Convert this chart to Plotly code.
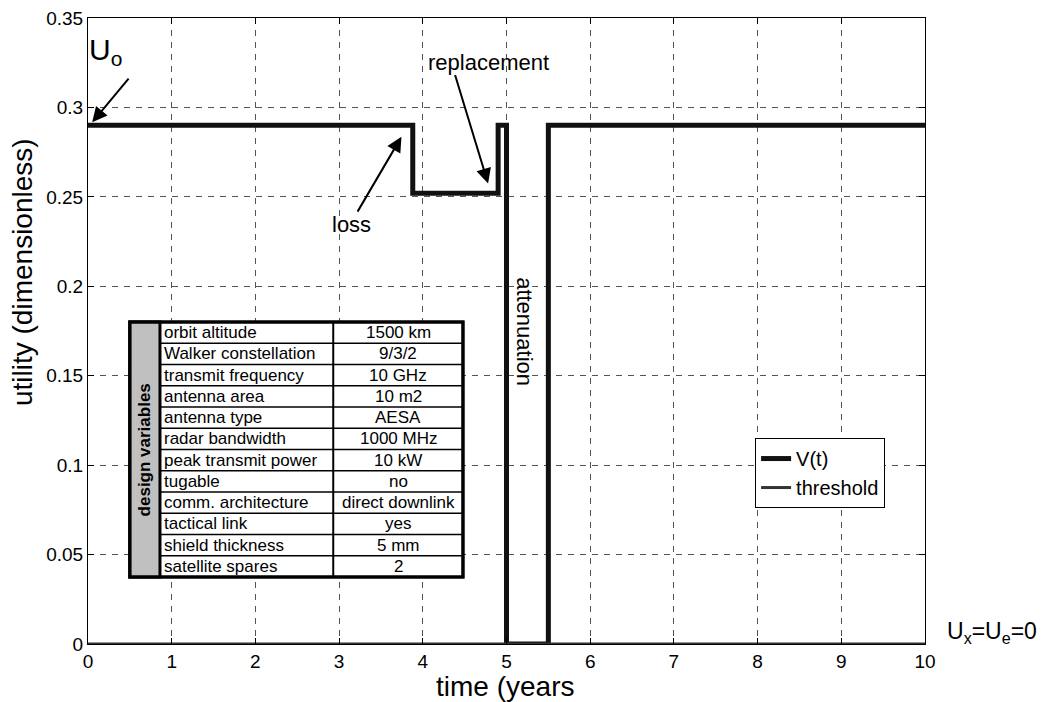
import plotly.graph_objects as go

# ---------------- data ----------------
time_pts = [0, 3.88, 3.88, 4.9, 4.9, 5.0, 5.0, 5.5, 5.5, 10]
utility_vals = [0.29, 0.29, 0.252, 0.252, 0.29, 0.29, 0.0, 0.0, 0.29, 0.29]
threshold_time = [0, 10]
threshold_vals = [0, 0]

x_ticks = [0, 1, 2, 3, 4, 5, 6, 7, 8, 9, 10]
y_ticks = [0, 0.05, 0.1, 0.15, 0.2, 0.25, 0.3, 0.35]
y_tick_labels = ["0", "0.05", "0.1", "0.15", "0.2", "0.25", "0.3", "0.35"]

design_names = ["orbit altitude", "Walker constellation", "transmit frequency",
                "antenna area", "antenna type", "radar bandwidth",
                "peak transmit power", "tugable", "comm. architecture",
                "tactical link", "shield thickness", "satellite spares"]
design_values = ["1500 km", "9/3/2", "10 GHz", "10 m2", "AESA", "1000 MHz",
                 "10 kW", "no", "direct downlink", "yes", "5 mm", "2"]

FONT = "Arial, Liberation Sans, sans-serif"

fig = go.Figure()
fig.add_trace(go.Scatter(x=time_pts, y=utility_vals, mode="lines", name="V(t)",
                         line=dict(color="#111111", width=5)))
fig.add_trace(go.Scatter(x=threshold_time, y=threshold_vals, mode="lines",
                         name="threshold", line=dict(color="#333333", width=3)))

# ---------------- inset table (data coordinates) ----------------
tx0, txg, txm, tx1 = 0.50, 0.86, 2.93, 4.48
ty_top, ty_bot = 0.180, 0.0375
n = len(design_names)
rh = (ty_top - ty_bot) / n

shapes = []
shapes.append(dict(type="rect", xref="x", yref="y", x0=tx0, x1=tx1, y0=ty_bot, y1=ty_top,
                   fillcolor="white", line=dict(color="black", width=3), layer="above"))
shapes.append(dict(type="rect", xref="x", yref="y", x0=tx0, x1=txg, y0=ty_bot, y1=ty_top,
                   fillcolor="#c0c0c0", line=dict(color="black", width=3), layer="above"))
shapes.append(dict(type="line", xref="x", yref="y", x0=txm, x1=txm, y0=ty_bot, y1=ty_top,
                   line=dict(color="black", width=2), layer="above"))
for i in range(1, n):
    yy = ty_top - i * rh
    shapes.append(dict(type="line", xref="x", yref="y", x0=txg, x1=tx1, y0=yy, y1=yy,
                       line=dict(color="black", width=1.5), layer="above"))
shapes.append(dict(type="rect", xref="x", yref="y", x0=tx0, x1=tx1, y0=ty_bot, y1=ty_top,
                   line=dict(color="black", width=3), layer="above"))

annotations = []
for i, (nm, val) in enumerate(zip(design_names, design_values)):
    yc = ty_top - (i + 0.5) * rh
    annotations.append(dict(x=txg + 0.02, y=yc, xref="x", yref="y", text=nm,
                            showarrow=False, xanchor="left", yanchor="middle",
                            font=dict(family=FONT, size=17, color="black")))
    annotations.append(dict(x=(txm + tx1) / 2, y=yc, xref="x", yref="y", text=val,
                            showarrow=False, xanchor="center", yanchor="middle",
                            font=dict(family=FONT, size=17, color="black")))
annotations.append(dict(x=(tx0 + txg) / 2, y=(ty_top + ty_bot) / 2, xref="x", yref="y",
                        text="<b>design variables</b>", textangle=-90, showarrow=False,
                        font=dict(family=FONT, size=17, color="black")))

# ---------------- text annotations ----------------
ann_font = dict(family=FONT, size=22, color="black")
arrow_style = dict(showarrow=True, arrowhead=2, arrowsize=1.5, arrowwidth=2,
                   arrowcolor="black", standoff=0)
annotations += [
    dict(x=0.21, y=0.331, xref="x", yref="y", text="U<sub>o</sub>", showarrow=False,
         font=dict(family=FONT, size=30, color="black")),
    dict(x=0.05, y=0.2917, ax=0.50, ay=0.317, xref="x", yref="y", axref="x", ayref="y",
         text="", **arrow_style),
    dict(x=3.15, y=0.2348, xref="x", yref="y", text="loss", showarrow=False, font=ann_font),
    dict(x=3.745, y=0.2836, ax=3.21, ay=0.2409, xref="x", yref="y", axref="x", ayref="y",
         text="", **arrow_style),
    dict(x=4.79, y=0.3253, xref="x", yref="y", text="replacement", showarrow=False, font=ann_font),
    dict(x=4.78, y=0.2575, ax=4.38, ay=0.319, xref="x", yref="y", axref="x", ayref="y",
         text="", **arrow_style),
    dict(x=5.22, y=0.1744, xref="x", yref="y", text="attenuation", textangle=90,
         showarrow=False, font=ann_font),
    dict(x=1.024, y=0.019, xref="paper", yref="paper", text="U<sub>x</sub>=U<sub>e</sub>=0",
         showarrow=False, xanchor="left", yanchor="middle",
         font=dict(family=FONT, size=23, color="black")),
    dict(x=0.4985, y=-0.068, xref="paper", yref="paper", text="time (years",
         showarrow=False, xanchor="center", yanchor="middle",
         font=dict(family=FONT, size=28, color="black")),
    dict(x=-0.0790, y=0.594, xref="paper", yref="paper", text="utility (dimensionless)",
         textangle=-90, showarrow=False, xanchor="center", yanchor="middle",
         font=dict(family=FONT, size=28, color="black")),
]

axis_common = dict(showline=True, linecolor="black", linewidth=1, mirror="ticks",
                   ticks="inside", ticklen=6, tickcolor="black",
                   showgrid=True, gridcolor="#555555", gridwidth=1, griddash="6px,6px",
                   zeroline=False, automargin=False, ticklabeloverflow="allow",
                   tickfont=dict(family=FONT, size=19, color="black"))

# page body has an 8px default margin, so the figure is offset by (8, 8)
fig.update_layout(
    width=1054, height=694,
    margin=dict(l=80, r=137, t=10, b=58),
    paper_bgcolor="white", plot_bgcolor="white",
    xaxis=dict(range=[0, 10], tickvals=x_ticks, **axis_common),
    yaxis=dict(range=[0, 0.35], tickvals=y_ticks, ticktext=y_tick_labels, **axis_common),
    legend=dict(x=0.797, y=0.329, xanchor="left", yanchor="top",
                bgcolor="white", bordercolor="black", borderwidth=1,
                font=dict(family=FONT, size=20, color="black"),
                tracegroupgap=0),
    shapes=shapes,
    annotations=annotations,
    showlegend=True,
)

fig.write_html("out.html")
